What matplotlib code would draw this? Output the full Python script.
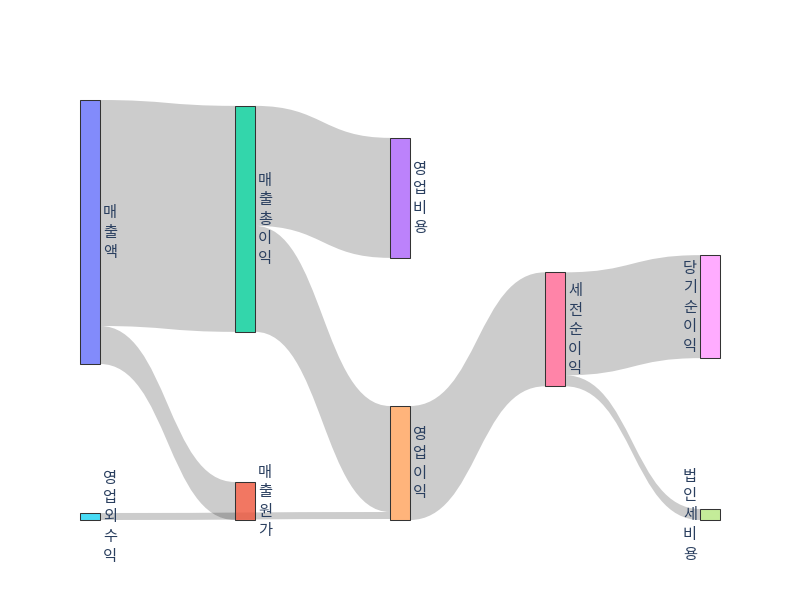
import matplotlib.pyplot as plt
from matplotlib.path import Path
from matplotlib.patches import PathPatch, Rectangle
from matplotlib.colors import to_rgba

plt.rcParams['font.family'] = ['Noto Sans CJK KR', 'DejaVu Sans']

# 노드 이름과 색상
nodes = ['매출액', '매출원가', '매출총이익', '영업비용', '영업이익',
         '영업외수익', '세전순이익', '법인세비용', '당기순이익']
node_colors = ['#636efa', '#EF553B', '#00cc96', '#ab63fa', '#FFA15A',
               '#19d3f3', '#FF6692', '#B6E880', '#FF97FF']

# 링크: 출발 노드, 도착 노드, 값
sources = [0, 0, 2, 2, 5, 4, 6, 6]
targets = [2, 1, 3, 4, 4, 6, 8, 7]
values = [226, 38, 120, 106, 7, 114, 103, 11]

# 노드 배치 (열 번호, 세로 위치 0~1)
node_col = [0, 1, 1, 2, 2, 0, 3, 4, 4]
node_y = [0.0, 1.0, 0.283, 0.233, 1.0, 1.0, 0.546, 1.0, 0.492]

# 그림 영역 (픽셀)
left, right, top, bottom = 80, 720, 100, 520
node_w = 20
scale = 1.0
n_cols = max(node_col) + 1
text_color = '#2a3f5f'

fig = plt.figure(figsize=(8, 6), dpi=100)
ax = fig.add_axes([0, 0, 1, 1])
ax.set_xlim(0, 800)
ax.set_ylim(600, 0)
ax.axis('off')

n = len(nodes)
in_sum = [0] * n
out_sum = [0] * n
for s, t, v in zip(sources, targets, values):
    out_sum[s] += v
    in_sum[t] += v

heights = [max(in_sum[i], out_sum[i]) * scale for i in range(n)]
xs = [left + c / (n_cols - 1) * (right - left - node_w) for c in node_col]
ys = []
for i in range(n):
    y0 = top + node_y[i] * (bottom - top) - heights[i] / 2
    y0 = min(max(y0, top), bottom - heights[i])
    ys.append(y0)
centers = [ys[i] + heights[i] / 2 for i in range(n)]

# 각 노드에서 링크 위치 쌓기
src_pos = {}
tgt_pos = {}
for i in range(n):
    outs = sorted([k for k in range(len(values)) if sources[k] == i], key=lambda k: centers[targets[k]])
    y = ys[i]
    for k in outs:
        src_pos[k] = (y, y + values[k] * scale)
        y += values[k] * scale
    ins = sorted([k for k in range(len(values)) if targets[k] == i], key=lambda k: centers[sources[k]])
    y = ys[i]
    for k in ins:
        tgt_pos[k] = (y, y + values[k] * scale)
        y += values[k] * scale

# 링크 그리기
for k in range(len(values)):
    x0 = xs[sources[k]] + node_w
    x1 = xs[targets[k]]
    xm = (x0 + x1) / 2
    sy0, sy1 = src_pos[k]
    ty0, ty1 = tgt_pos[k]
    verts = [(x0, sy0), (xm, sy0), (xm, ty0), (x1, ty0),
             (x1, ty1), (xm, ty1), (xm, sy1), (x0, sy1), (x0, sy0)]
    codes = [Path.MOVETO, Path.CURVE4, Path.CURVE4, Path.CURVE4,
             Path.LINETO, Path.CURVE4, Path.CURVE4, Path.CURVE4, Path.CLOSEPOLY]
    ax.add_patch(PathPatch(Path(verts, codes), facecolor=(0, 0, 0, 0.2), edgecolor='none', zorder=1))

# 노드와 라벨
line_h = 19.5
for i in range(n):
    ax.add_patch(Rectangle((xs[i], ys[i]), node_w, heights[i],
                           facecolor=to_rgba(node_colors[i], 0.8), edgecolor='#333333',
                           linewidth=0.75, zorder=2))
    label = nodes[i]
    if node_col[i] == n_cols - 1:
        tx, ha = xs[i] - 3, 'right'
    else:
        tx, ha = xs[i] + node_w + 3, 'left'
    for j, ch in enumerate(label):
        cy = centers[i] + (j - (len(label) - 1) / 2) * line_h
        ax.text(tx, cy + 5.0, ch, ha=ha, va='baseline', fontsize=11,
                color=text_color, zorder=3)

fig.savefig('out.png', dpi=100)
